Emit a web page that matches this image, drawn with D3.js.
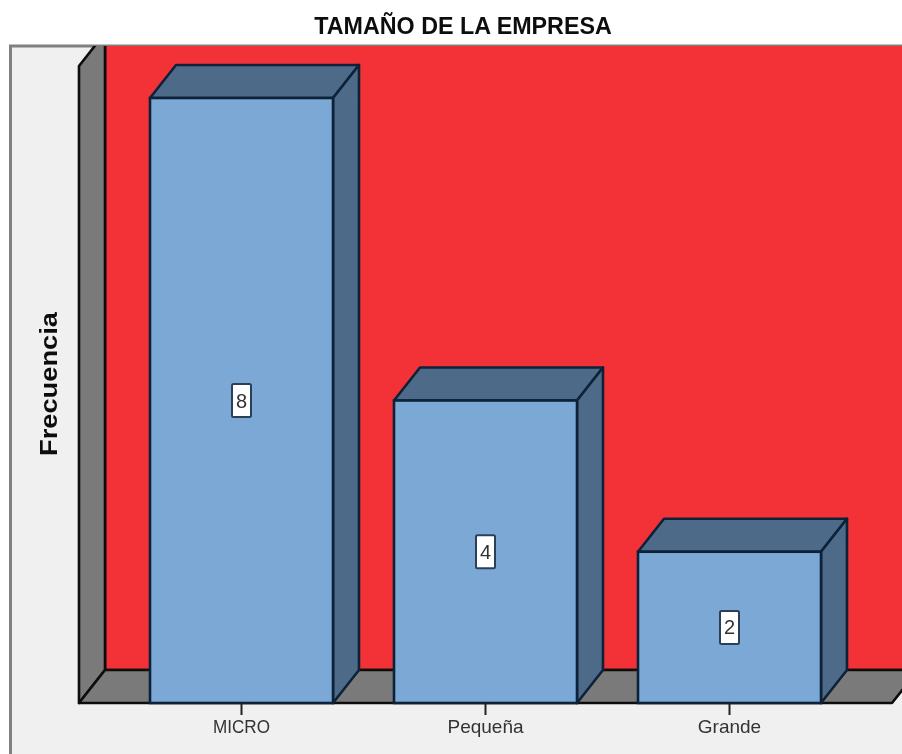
<!DOCTYPE html>
<html><head><meta charset="utf-8">
<script src="https://cdn.jsdelivr.net/npm/d3@7/dist/d3.min.js"></script>
<style>html,body{margin:0;padding:0;background:#fff;overflow:hidden}svg{display:block}text{font-family:"Liberation Sans",Arial,sans-serif}</style>
</head><body><div id="chart"></div>
<script>
const categories = ["MICRO", "Pequeña", "Grande"];
const frequencies = [8, 4, 2];
const chartTitle = "TAMAÑO DE LA EMPRESA";
const yAxisTitle = "Frecuencia";

const W = 902, H = 754;
const dx = 26, dy = 33;
const x0 = 79, baseY = 703, topY = 46;
const line = "#0d0d0d", barLine = "#0f2338";

const x = d3.scaleBand().domain(categories).range([119.5, 851.5]).paddingInner(0.25).paddingOuter(0.125);
const y = d3.scaleLinear().domain([0, 8]).range([baseY, 98]);

const svg = d3.select("#chart").append("svg").attr("width", W).attr("height", H);
const defs = svg.append("defs");
defs.append("filter").attr("id", "soft").attr("x", "-2%").attr("y", "-2%").attr("width", "104%").attr("height", "104%")
  .append("feGaussianBlur").attr("stdDeviation", 0.55);
const root = svg.append("g").attr("filter", "url(#soft)");
root.append("rect").attr("width", W).attr("height", H).attr("fill", "#fff");

const poly = (g, pts, fill, stroke, sw) => g.append("polygon")
  .attr("points", pts.map(p => p.join(",")).join(" "))
  .attr("fill", fill).attr("stroke", stroke).attr("stroke-width", sw).attr("stroke-linejoin", "round");

// outer panel
root.append("rect").attr("x", 10.5).attr("y", 46).attr("width", W).attr("height", H)
  .attr("fill", "#f0f0f0").attr("stroke", "#808080").attr("stroke-width", 3);

const clip = defs.append("clipPath").attr("id", "panel");
clip.append("rect").attr("x", 0).attr("y", topY).attr("width", W).attr("height", H - topY);
const g = root.append("g").attr("clip-path", "url(#panel)");

// 3D walls
poly(g, [[x0 + dx, topY - 40], [W + 60, topY - 40], [W + 60, baseY - dy], [x0 + dx, baseY - dy]], "#f33239", line, 2.6);
poly(g, [[x0, 66], [x0 + dx, 66 - dy], [x0 + dx, baseY - dy], [x0, baseY]], "#7a7a7a", line, 2.6);
poly(g, [[x0, baseY], [x0 + dx, baseY - dy], [918, baseY - dy], [892, baseY]], "#7a7a7a", line, 2.6);

// 3D bars
const bars = g.selectAll("g.bar").data(categories.map((c, i) => ({ c, v: frequencies[i] })))
  .join("g").attr("class", "bar");
bars.each(function (d) {
  const b = d3.select(this);
  const l = x(d.c), r = l + x.bandwidth(), t = y(d.v), bt = y(0);
  poly(b, [[l, t], [l + dx, t - dy], [r + dx, t - dy], [r, t]], "#4d6a88", barLine, 2.6);
  poly(b, [[r, t], [r + dx, t - dy], [r + dx, bt - dy], [r, bt]], "#4d6a88", barLine, 2.6);
  b.append("rect").attr("x", l).attr("y", t).attr("width", r - l).attr("height", bt - t)
    .attr("fill", "#7ba8d6").attr("stroke", barLine).attr("stroke-width", 2.6);
});

// value labels
bars.each(function (d) {
  const b = d3.select(this);
  const cx = x(d.c) + x.bandwidth() / 2, cy = (y(d.v) + y(0)) / 2;
  b.append("rect").attr("x", cx - 9.5).attr("y", cy - 16.5).attr("width", 19).attr("height", 33).attr("rx", 1.5)
    .attr("fill", "#fff").attr("stroke", "#2c4058").attr("stroke-width", 2);
  b.append("text").attr("x", cx).attr("y", cy + 7).attr("text-anchor", "middle")
    .attr("font-size", 20).attr("fill", "#333").text(d.v);
});

// x axis
const axis = root.append("g").attr("transform", `translate(0,${baseY})`)
  .call(d3.axisBottom(x).tickSize(12).tickPadding(5));
axis.select(".domain").remove();
axis.selectAll("line").attr("stroke", "#222").attr("stroke-width", 2);
axis.selectAll("text").attr("font-size", 19).attr("fill", "#333")
  .style('font-family', '"Liberation Sans",Arial,sans-serif');
axis.selectAll("text").filter(d => d === categories[0]).attr("textLength", 57).attr("lengthAdjust", "spacingAndGlyphs");

// titles
root.append("text").attr("x", 463).attr("y", 34).attr("text-anchor", "middle")
  .attr("font-size", 23.3).attr("font-weight", "bold").attr("fill", "#111").text(chartTitle);
root.append("text").attr("transform", "translate(57,384) rotate(-90)").attr("text-anchor", "middle")
  .attr("font-size", 24).attr("font-weight", "bold").attr("fill", "#111")
  .attr("textLength", 144).attr("lengthAdjust", "spacingAndGlyphs").text(yAxisTitle);
</script></body></html>
